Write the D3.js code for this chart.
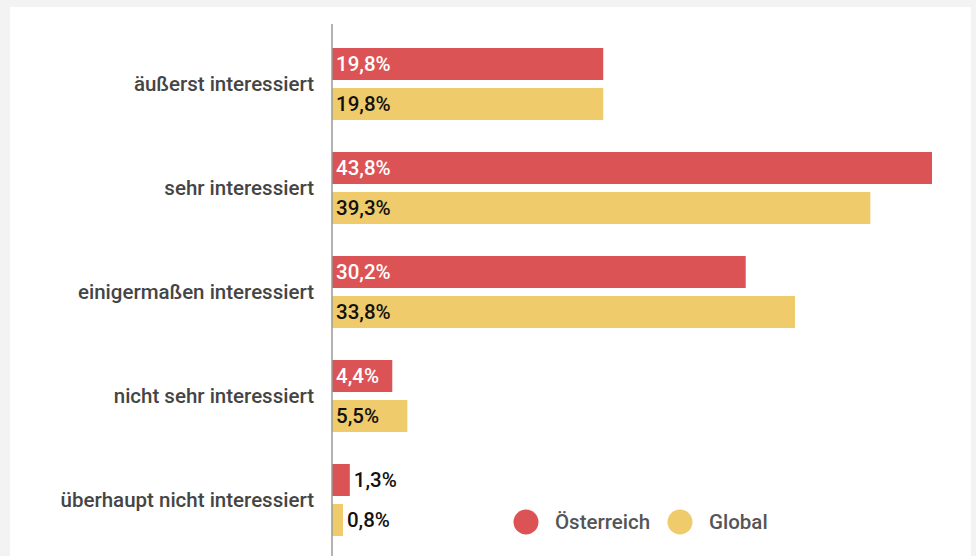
<!DOCTYPE html>
<html>
<head>
<meta charset="utf-8">
<script src="https://cdn.jsdelivr.net/npm/d3@7"></script>
<style>
  body { margin: 0; background: #f3f3f3; }
  #canvas { position: absolute; left: 10px; top: 7px; width: 961px; height: 549px; background: #fff; }
  svg { display: block; font-family: Roboto, sans-serif; }
</style>
</head>
<body>
<div id="canvas"></div>
<script>
const categories = ['äußerst interessiert', 'sehr interessiert', 'einigermaßen interessiert',
  'nicht sehr interessiert', 'überhaupt nicht interessiert'];
const seriesNames = ['Österreich', 'Global'];
const oesterreich = [19.8, 43.8, 30.2, 4.4, 1.3];
const global = [19.8, 39.3, 33.8, 5.5, 0.8];

const Chart = () => {
  const W = 961, H = 549;
  const colors = ['#dc5355', '#efcb6b'];
  const textColors = ['#fff', '#111'];
  const fmt = v => d3.format('.1f')(v).replace('.', ',') + '%';

  const data = categories.map((c, i) => ({
    cat: c,
    vals: [oesterreich[i], global[i]]
  }));

  const Svg = d3.select('#canvas').append('svg')
    .attr('width', W)
    .attr('height', H);

  // offset of the white panel
  const g = Svg.append('g').attr('transform', 'translate(-10, -7)');

  const xScale = d3.scaleLinear()
    .domain([0, 43.8])
    .range([332, 932]);

  const yScale = d3.scaleBand()
    .domain(categories)
    .range([32, 552])
    .paddingInner(32 / 104)
    .paddingOuter(16 / 104);

  const sScale = d3.scaleBand()
    .domain(seriesNames)
    .range([0, yScale.bandwidth()])
    .paddingInner(0.2);

  const groups = g.selectAll('.cat')
    .data(data)
    .enter()
    .append('g')
    .attr('class', 'cat')
    .attr('transform', d => `translate(0, ${yScale(d.cat)})`);

  groups.append('text')
    .text(d => d.cat)
    .attr('x', 314)
    .attr('y', yScale.bandwidth() / 2)
    .attr('dy', '0.35em')
    .attr('text-anchor', 'end')
    .attr('font-size', '20.5px')
    .attr('font-weight', 500)
    .attr('fill', '#454545');

  const bars = groups.selectAll('.bar')
    .data(d => d.vals.map((v, j) => ({ v, j, name: seriesNames[j] })))
    .enter()
    .append('g')
    .attr('class', 'bar');

  bars.append('rect')
    .attr('x', xScale(0))
    .attr('y', d => sScale(d.name))
    .attr('width', d => xScale(d.v) - xScale(0))
    .attr('height', sScale.bandwidth())
    .attr('fill', d => colors[d.j]);

  bars.append('text')
    .text(d => fmt(d.v))
    .attr('x', d => {
      const w = xScale(d.v) - xScale(0);
      return w > 50 ? xScale(0) + 4 : xScale(d.v) + 4;
    })
    .attr('y', d => sScale(d.name) + sScale.bandwidth() / 2)
    .attr('dy', '0.35em')
    .attr('font-size', '20.5px')
    .attr('font-weight', 500)
    .attr('fill', d => (xScale(d.v) - xScale(0)) > 50 ? textColors[d.j] : '#111');

  // axis line
  g.append('line')
    .attr('x1', xScale(0))
    .attr('x2', xScale(0))
    .attr('y1', 24)
    .attr('y2', 556)
    .attr('stroke', '#9a9a9a')
    .attr('stroke-width', 1.5);

  // legend
  const legend = g.append('g').attr('transform', 'translate(526, 522)');
  const lx = [0, 154];
  seriesNames.forEach((n, j) => {
    legend.append('circle')
      .attr('cx', lx[j])
      .attr('cy', 0)
      .attr('r', 12.5)
      .attr('fill', colors[j]);
    legend.append('text')
      .text(n)
      .attr('x', lx[j] + 29)
      .attr('y', 0)
      .attr('dy', '0.35em')
      .attr('font-size', '20.5px')
      .attr('font-weight', 500)
      .attr('fill', '#555');
  });
};

Chart();
</script>
</body>
</html>
